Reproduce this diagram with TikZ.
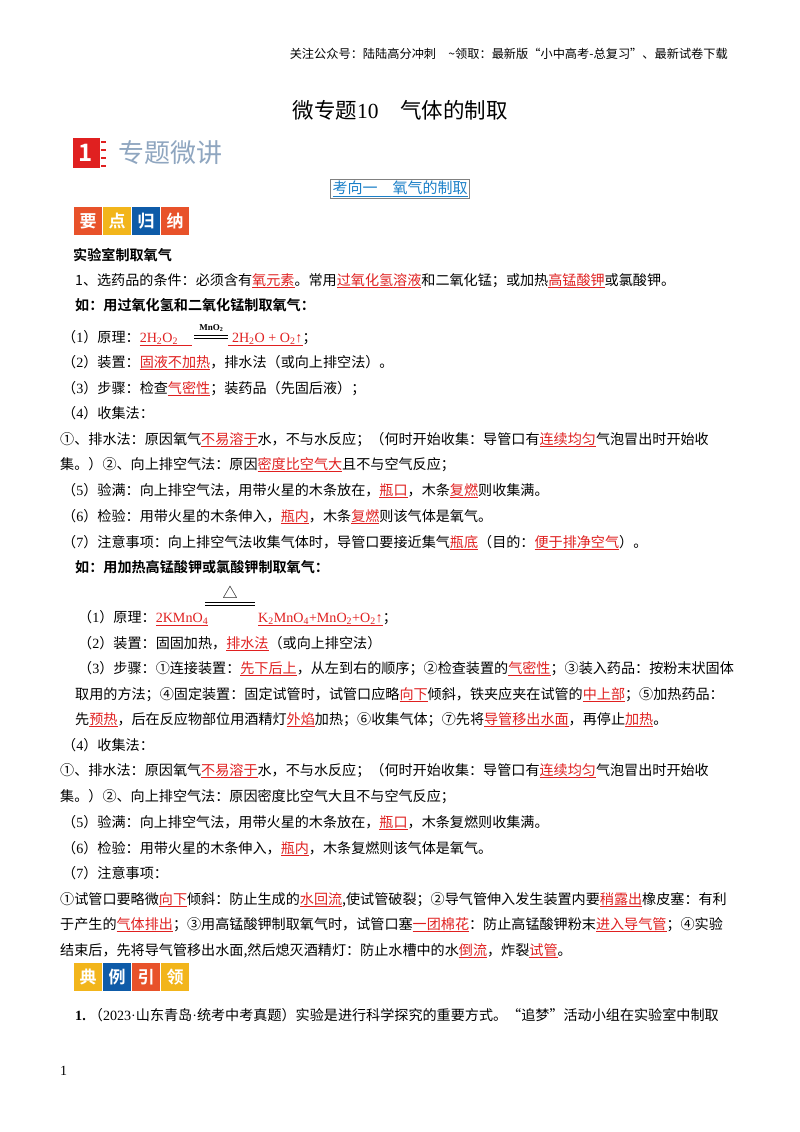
\documentclass[tikz,border=0pt]{standalone}
\usepackage{fontspec}
\setmainfont{Noto Sans CJK SC}[BoldFont={Noto Sans CJK SC Bold}]
\newfontfamily\lat{Liberation Serif}
\usepackage{xcolor}
\definecolor{rd}{HTML}{E02020}
\definecolor{bl}{HTML}{1A7FC8}
\definecolor{og}{HTML}{E8522A}
\definecolor{yl}{HTML}{F2B51B}
\definecolor{db}{HTML}{0E5BA8}
\definecolor{gb}{HTML}{8FA6C0}
\newcommand\rr[1]{\textcolor{rd}{\underline{#1}}}
\newcommand\sbs[1]{\textsubscript{#1}}
% width, raise of lines, raise of label, label
\newcommand\eqs[4]{\raisebox{#2}{\rule{#1}{0.5pt}}\hspace{-#1}\raisebox{\dimexpr#2+0.2em}{\rule{#1}{0.5pt}}\hspace{-#1}\makebox[#1]{\raisebox{#3}{#4}}}
\begin{document}
\begin{tikzpicture}[x=1pt,y=-1pt,
  ln/.style={anchor=base west,inner sep=0pt,font=\fontsize{14.1}{18}\selectfont},
  bd/.style={ln,font=\fontsize{14.1}{18}\selectfont\bfseries},
  sq/.style={minimum width=28pt,minimum height=28pt,inner sep=0pt,text=white,font=\fontsize{17}{18}\selectfont\bfseries}]
\useasboundingbox (0,0) rectangle (800,1132);
\fill[white] (0,0) rectangle (800,1132);
\node[anchor=base east,inner sep=0pt,font=\fontsize{12.2}{14}\selectfont] (hd) at (728,59) {关注公众号：陆陆高分冲刺\quad\~{}领取：最新版“小中高考-总复习”、最新试卷下载};
\node[anchor=base,inner sep=0pt,font=\fontsize{21.5}{24}\selectfont] (title) at (400,118) {微专题{\lat 10}\quad 气体的制取};
% banner
\fill[rd] (73,138) rectangle (100,168);
\node[text=white,font=\fontsize{24}{24}\selectfont\bfseries] (one) at (86,153) {1};
\foreach \yy in {142,150,158,166} \draw[rd,line width=1.2pt] (101,\yy) -- (106,\yy);
\node[anchor=west,inner sep=0pt,text=gb,font=\fontsize{26}{27}\selectfont] (zt) at (118,153) {专题微讲};
\node[draw=gray,line width=1pt,inner sep=2pt,text=bl,font=\fontsize{15}{18}\selectfont] (kx) at (400,189) {\underline{考向一\quad 氧气的制取}};
% yao dian gui na
\node[sq,fill=og] (y1) at (88,221) {要};
\node[sq,fill=yl] (y2) at (117,221) {点};
\node[sq,fill=db] (y3) at (146,221) {归};
\node[sq,fill=og] (y4) at (175,221) {纳};
\node[bd] (l1) at (73,260) {实验室制取氧气};
\node[ln] (l2) at (75,285) {1、选药品的条件：必须含有\rr{氧元素}。常用\rr{过氧化氢溶液}和二氧化锰；或加热\rr{高锰酸钾}或氯酸钾。};
\node[bd] (l3) at (75,310) {如：用过氧化氢和二氧化锰制取氧气：};
\node[ln] (l4) at (62,342) {（{\lat 1}）原理：\textcolor{rd}{\lat\underline{2H\sbs{2}O\sbs{2}\ \ \ \ }}\,\eqs{34pt}{0.25em}{0.85em}{\lat\bfseries\fontsize{9}{10}\selectfont MnO\sbs{2}}\textcolor{rd}{\lat\underline{\ 2H\sbs{2}O + O\sbs{2}↑}}；};
\node[ln] (l5) at (62,367) {（{\lat 2}）装置：\rr{固液不加热}，排水法（或向上排空法）。};
\node[ln] (l6) at (62,393) {（{\lat 3}）步骤：检查\rr{气密性}；装药品（先固后液）；};
\node[ln] (l7) at (62,418) {（{\lat 4}）收集法：};
\node[ln] (l8) at (60,444) {①、排水法：原因氧气\rr{不易溶于}水，不与水反应；（何时开始收集：导管口有\rr{连续均匀}气泡冒出时开始收};
\node[ln] (l9) at (60,469) {集。）②、向上排空气法：原因\rr{密度比空气大}且不与空气反应；};
\node[ln] (l10) at (62,495) {（{\lat 5}）验满：向上排空气法，用带火星的木条放在，\rr{瓶口}，木条\rr{复燃}则收集满。};
\node[ln] (l11) at (62,521) {（{\lat 6}）检验：用带火星的木条伸入，\rr{瓶内}，木条\rr{复燃}则该气体是氧气。};
\node[ln] (l12) at (62,547) {（{\lat 7}）注意事项：向上排空气法收集气体时，导管口要接近集气\rr{瓶底}（目的：\rr{便于排净空气}）。};
\node[bd] (l13) at (75,572) {如：用加热高锰酸钾或氯酸钾制取氧气：};
\node[ln] (l14) at (78,622) {（{\lat 1}）原理：\textcolor{rd}{\lat\underline{2KMnO\sbs{4}}}\hspace{-3pt}\eqs{50pt}{1.15em}{1.7em}{\fontsize{15}{16}\selectfont △}\hspace{3pt}\textcolor{rd}{\lat\underline{K\sbs{2}MnO\sbs{4}+MnO\sbs{2}+O\sbs{2}↑}}；};
\node[ln] (l15) at (78,648) {（{\lat 2}）装置：固固加热，\rr{排水法}（或向上排空法）};
\node[ln] (l16) at (78,673) {（{\lat 3}）步骤：①连接装置：\rr{先下后上}，从左到右的顺序；②检查装置的\rr{气密性}；③装入药品：按粉末状固体};
\node[ln] (l17) at (75,699) {取用的方法；④固定装置：固定试管时，试管口应略\rr{向下}倾斜，铁夹应夹在试管的\rr{中上部}；⑤加热药品：};
\node[ln] (l18) at (75,724) {先\rr{预热}，后在反应物部位用酒精灯\rr{外焰}加热；⑥收集气体；⑦先将\rr{导管移出水面}，再停止\rr{加热}。};
\node[ln] (l19) at (62,750) {（{\lat 4}）收集法：};
\node[ln] (l20) at (60,775) {①、排水法：原因氧气\rr{不易溶于}水，不与水反应；（何时开始收集：导管口有\rr{连续均匀}气泡冒出时开始收};
\node[ln] (l21) at (60,801) {集。）②、向上排空气法：原因密度比空气大且不与空气反应；};
\node[ln] (l22) at (62,827) {（{\lat 5}）验满：向上排空气法，用带火星的木条放在，\rr{瓶口}，木条复燃则收集满。};
\node[ln] (l23) at (62,853) {（{\lat 6}）检验：用带火星的木条伸入，\rr{瓶内}，木条复燃则该气体是氧气。};
\node[ln] (l24) at (62,878) {（{\lat 7}）注意事项：};
\node[ln] (l25) at (60,904) {①试管口要略微\rr{向下}倾斜：防止生成的\rr{水回流},使试管破裂；②导气管伸入发生装置内要\rr{稍露出}橡皮塞：有利};
\node[ln] (l26) at (60,929) {于产生的\rr{气体排出}；③用高锰酸钾制取氧气时，试管口塞\rr{一团棉花}：防止高锰酸钾粉末\rr{进入导气管}；④实验};
\node[ln] (l27) at (60,955) {结束后，先将导气管移出水面,然后熄灭酒精灯：防止水槽中的水\rr{倒流}，炸裂\rr{试管}。};
\node[sq,fill=yl] (d1) at (88,977) {典};
\node[sq,fill=db] (d2) at (117,977) {例};
\node[sq,fill=og] (d3) at (146,977) {引};
\node[sq,fill=yl] (d4) at (175,977) {领};
\node[ln] (l28) at (75,1020) {{\lat\bfseries 1.}\ （{\lat 2023}{\lat ·}山东青岛{\lat ·}统考中考真题）实验是进行科学探究的重要方式。“追梦”活动小组在实验室中制取};
\node[ln,font=\lat\fontsize{14}{16}\selectfont] (pg) at (60,1075) {1};
\end{tikzpicture}
\end{document}
